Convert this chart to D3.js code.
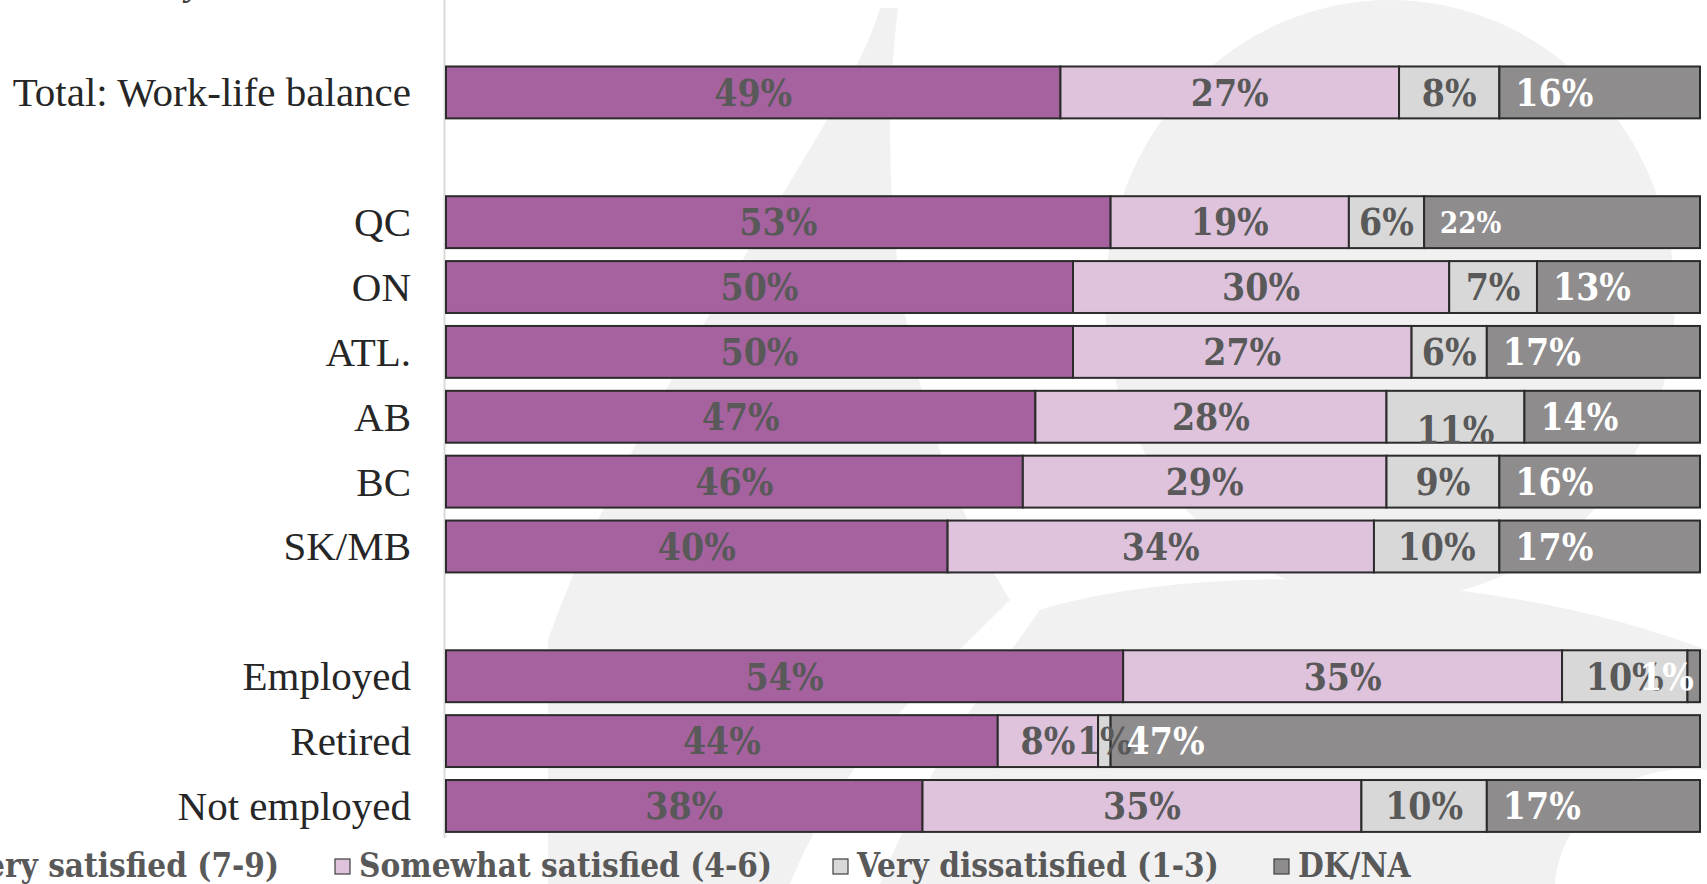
<!DOCTYPE html>
<html>
<head>
<meta charset="utf-8">
<script src="https://cdn.jsdelivr.net/npm/d3@7"></script>
<style>
  html, body { margin: 0; padding: 0; background: #ffffff; overflow: hidden; }
  svg { display: block; }
</style>
</head>
<body>
<svg id="chart" width="1707" height="884"></svg>
<script>
// ---------------- data ----------------
const groups = [
  ["Total: Work-life balance"],
  ["QC", "ON", "ATL.", "AB", "BC", "SK/MB"],
  ["Employed", "Retired", "Not employed"]
];
const categories = groups.flat();
const seriesNames = ["Very satisfied (7-9)", "Somewhat satisfied (4-6)", "Very dissatisfied (1-3)", "DK/NA"];
const verySatisfied     = [49, 53, 50, 50, 47, 46, 40, 54, 44, 38];
const somewhatSatisfied = [27, 19, 30, 27, 28, 29, 34, 35,  8, 35];
const veryDissatisfied  = [ 8,  6,  7,  6, 11,  9, 10, 10,  1, 10];
const dkNa              = [16, 22, 13, 17, 14, 16, 17,  1, 47, 17];
const xTicks = [0, 100];

// ---------------- styles ----------------
const colors = ["#a5629f", "#dfc3dd", "#d8d8d8", "#8e8c8d"];
const labelColors = ["#595959", "#595959", "#595959", "#ffffff"];
const catFont = "'Liberation Serif', 'Times New Roman', serif";
const valFont = "'DejaVu Serif Condensed', 'DejaVu Serif', serif";

const W = 1707, H = 884;
const svg = d3.select("#chart");

// ---------------- watermark ----------------
const wm = svg.append("g").attr("fill", "#f1f1f1");
wm.append("ellipse").attr("cx", 1390).attr("cy", 300).attr("rx", 285).attr("ry", 300);
wm.append("path").attr("d",
  "M880,8 C850,120 640,380 548,640 L548,884 L790,884 C840,760 930,680 1010,600 C900,420 875,200 898,8 Z");
wm.append("path").attr("d",
  "M1040,610 C1200,560 1500,570 1707,650 L1707,770 C1620,760 1560,820 1555,884 L880,884 C930,760 990,680 1040,610 Z");

// stray descender of a cut-off title
svg.append("text").attr("x", 186).attr("y", -6)
  .attr("font-family", catFont).attr("font-style", "italic")
  .attr("font-size", 40).attr("fill", "#404040").text("y");

// ---------------- scales ----------------
const slots = [];
groups.forEach((g, i) => {
  if (i > 0) slots.push("__gap" + i);
  g.forEach(c => slots.push(c));
});

const y = d3.scaleBand().domain(slots).range([60, 838.4]).paddingInner(0.2).paddingOuter(0.1);
const x = d3.scaleLinear().domain([xTicks[0], xTicks[1]]).range([446, 1700]);

// vertical axis line
svg.append("line")
  .attr("x1", 444.5).attr("x2", 444.5).attr("y1", 0).attr("y2", 838)
  .attr("stroke", "#d9d9d9").attr("stroke-width", 2);

// category axis labels
const yAxis = d3.axisLeft(y).tickSize(0).tickPadding(0)
  .tickFormat(d => d.startsWith("__gap") ? "" : d);
const gAxis = svg.append("g").attr("transform", "translate(411,0)").call(yAxis);
gAxis.select(".domain").remove();
gAxis.selectAll("text")
  .attr("font-family", catFont).attr("font-size", 41).attr("fill", "#262626")
  .attr("dy", "0.34em").attr("text-anchor", "end");

// stacked data
const rows = categories.map((c, i) => ({
  cat: c,
  vals: [verySatisfied[i], somewhatSatisfied[i], veryDissatisfied[i], dkNa[i]]
}));
const stackData = rows.map(r => {
  const o = { cat: r.cat };
  seriesNames.forEach((s, k) => o[s] = r.vals[k]);
  return o;
});
const stack = d3.stack().keys(seriesNames)(stackData);

svg.append("clipPath").attr("id", "plotClip")
  .append("rect").attr("x", 440).attr("y", 0).attr("width", x(100) - 440 + 1.5).attr("height", H);

const barsG = svg.append("g").attr("clip-path", "url(#plotClip)");
stack.forEach((layer, k) => {
  barsG.append("g").selectAll("rect").data(layer).join("rect")
    .attr("x", d => x(d[0]))
    .attr("y", d => y(d.data.cat))
    .attr("width", d => Math.max(0, Math.min(x(d[1]), x(100)) - x(d[0])))
    .attr("height", y.bandwidth())
    .attr("fill", colors[k])
    .attr("stroke", "#2b2b2b").attr("stroke-width", 2);
});

// value labels
const labelsG = svg.append("g");
const nudge = { "AB|2": 13 };   // label pushed down in the original
stack.forEach((layer, k) => {
  layer.forEach(d => {
    const v = d[1] - d[0];
    const cy = y(d.data.cat) + y.bandwidth() / 2 + (nudge[d.data.cat + "|" + k] || 0);
    const t = labelsG.append("text")
      .attr("font-family", valFont).attr("font-weight", "bold")
      .attr("font-stretch", "condensed")
      .attr("font-size", (d.data.cat === "QC" && k === 3) ? 29 : 37)
      .attr("fill", labelColors[k])
      .attr("y", cy).attr("dy", "0.36em")
      .text(v + "%");
    if (k < 3) {
      t.attr("text-anchor", "middle").attr("x", (x(d[0]) + Math.min(x(d[1]), x(100))) / 2);
    } else {
      t.attr("text-anchor", "start").attr("x", x(d[0]) + 16);
      const w = t.node().getComputedTextLength();
      const maxX = x(100) - w - 6;
      if (x(d[0]) + 16 > maxX) t.attr("x", maxX);
    }
  });
});

// legend
const legendX = [-58, 335, 833, 1274];
const legendG = svg.append("g");
seriesNames.forEach((s, k) => {
  legendG.append("rect")
    .attr("x", legendX[k]).attr("y", 859).attr("width", 15).attr("height", 15)
    .attr("fill", colors[k]).attr("stroke", "#404040").attr("stroke-width", 1.2);
  legendG.append("text")
    .attr("x", legendX[k] + 24).attr("y", 877)
    .attr("font-family", valFont).attr("font-weight", "bold").attr("font-stretch", "condensed")
    .attr("font-size", 33).attr("fill", "#595959")
    .text(s);
});
</script>
</body>
</html>
